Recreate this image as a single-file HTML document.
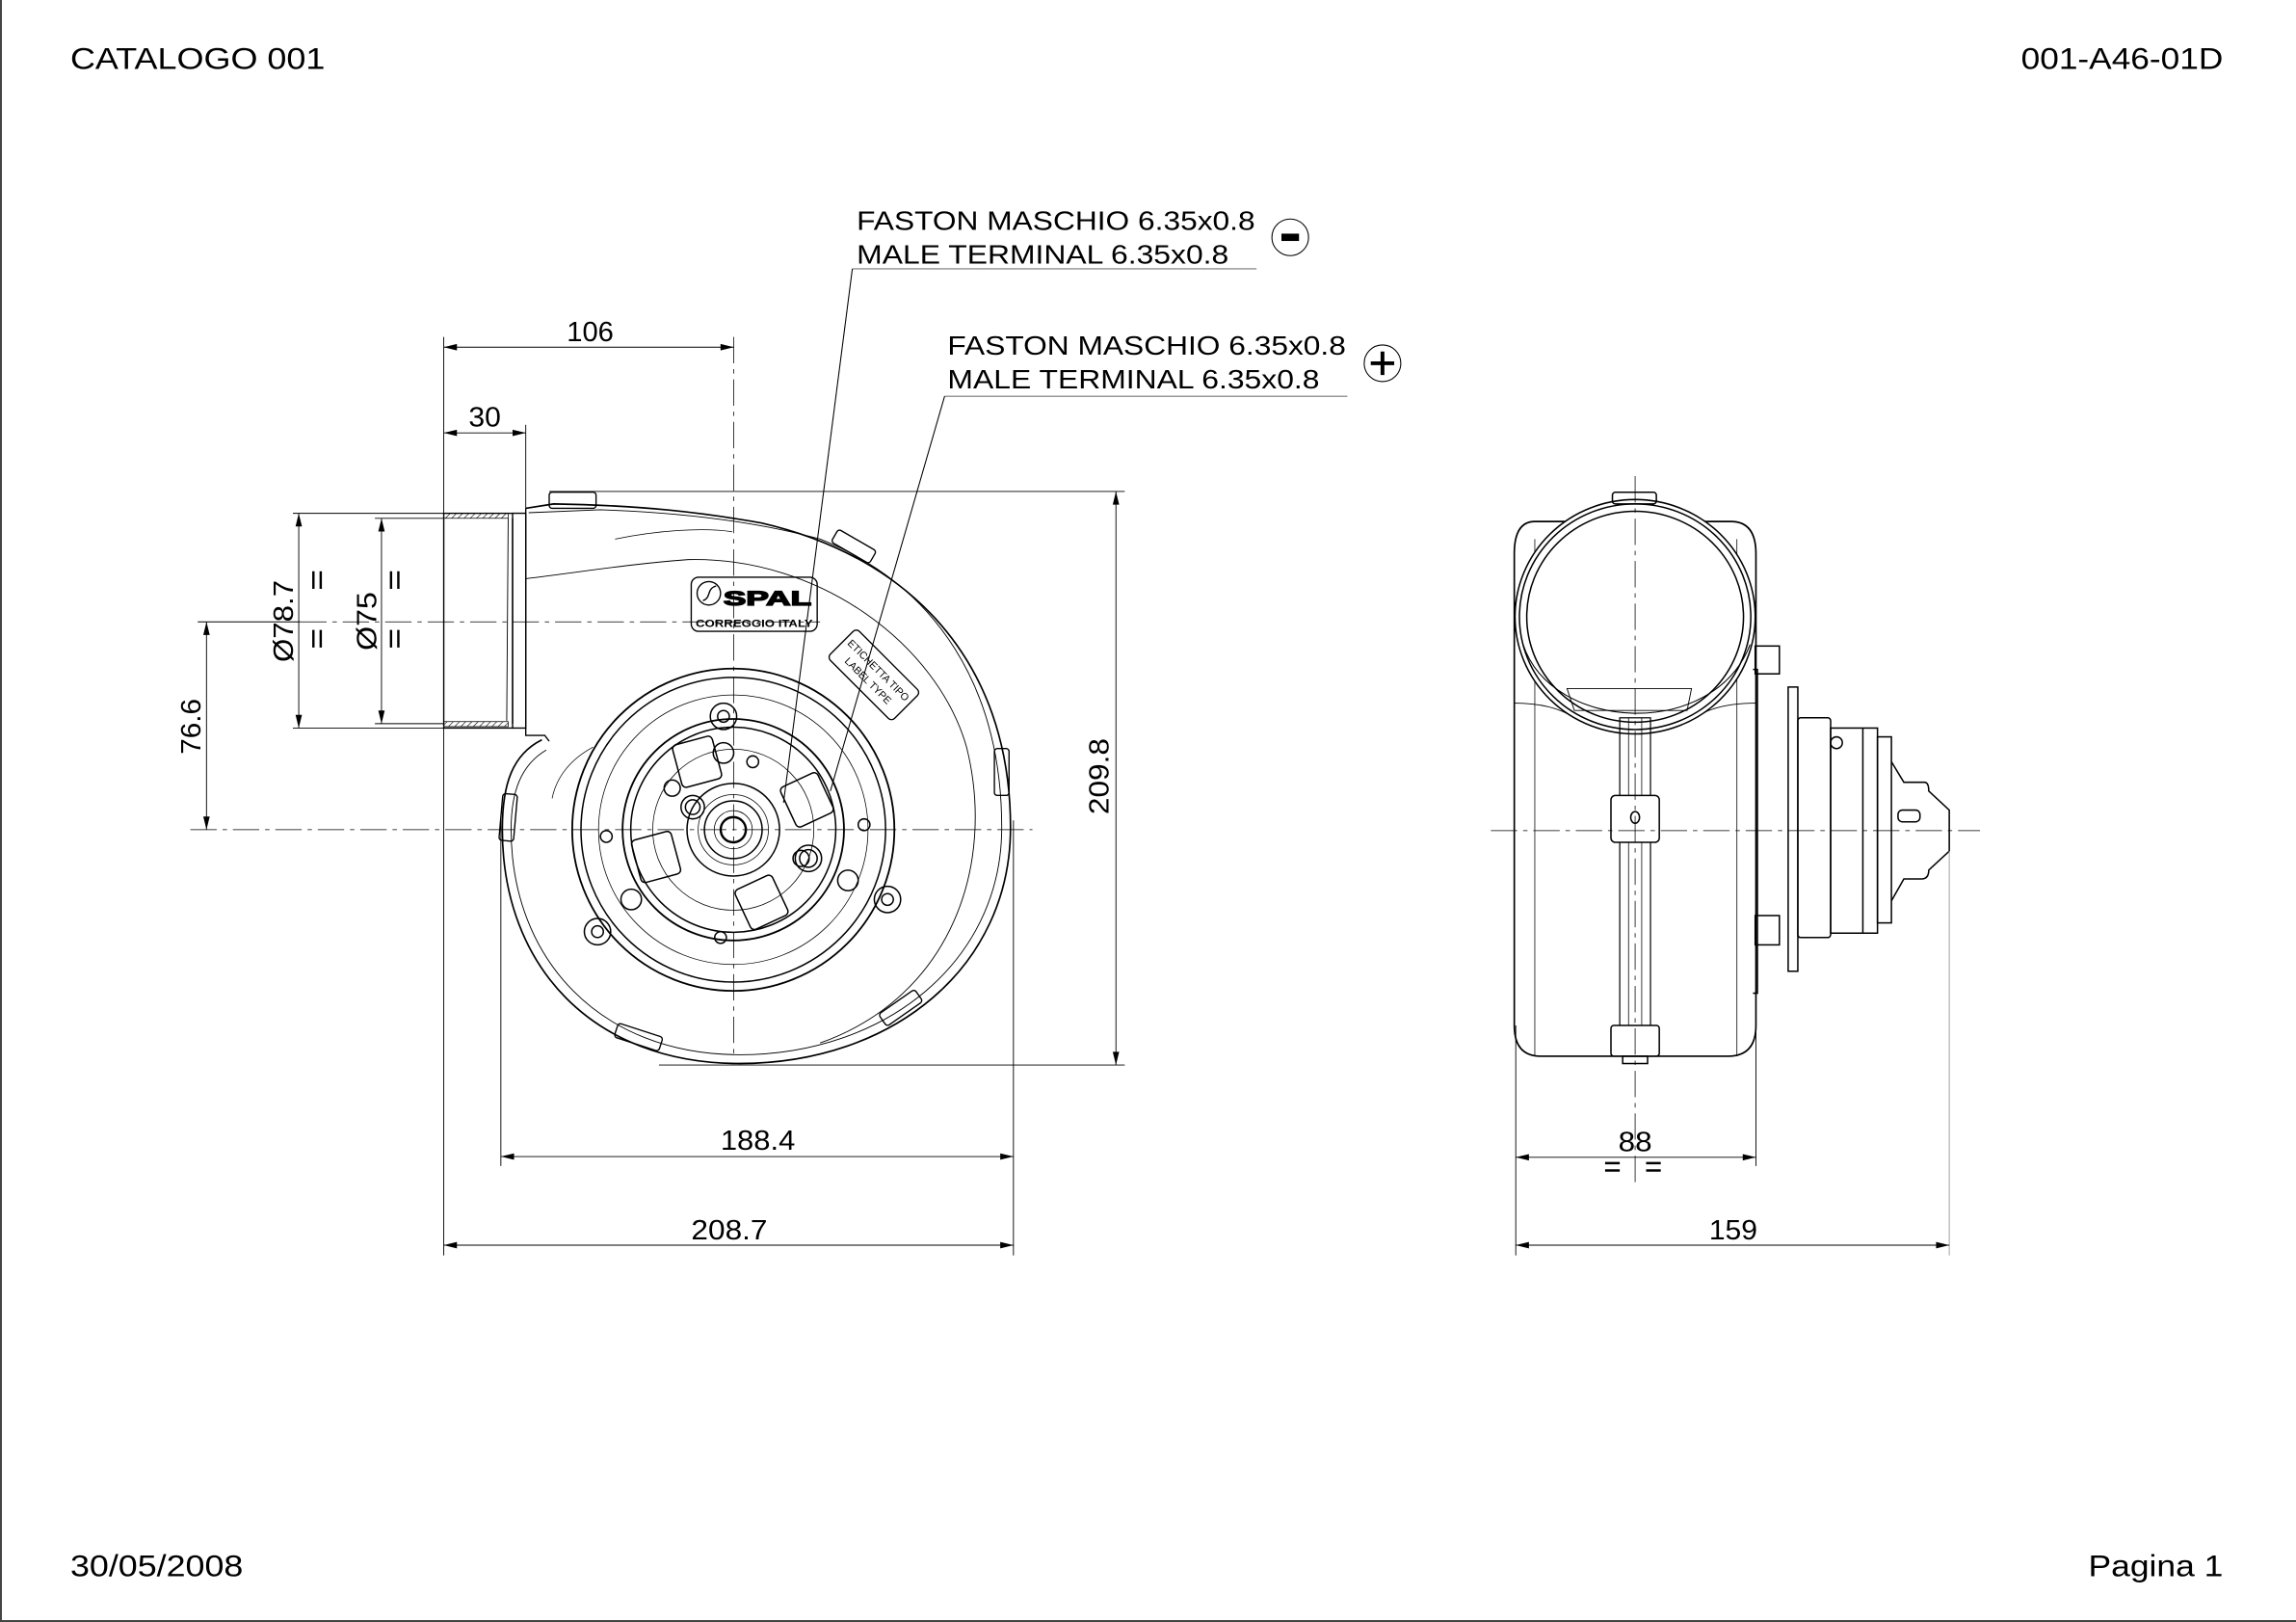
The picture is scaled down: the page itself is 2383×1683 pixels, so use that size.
<!DOCTYPE html>
<html><head><meta charset="utf-8"><style>
html,body{margin:0;padding:0;background:#fff;width:2383px;height:1683px;overflow:hidden}
svg{display:block}
text{font-family:"Liberation Sans",Arial,sans-serif;fill:#000}
</style></head><body>
<svg width="2383" height="1683" viewBox="0 0 2383 1683" xmlns="http://www.w3.org/2000/svg">
<defs>
<pattern id="hatch" width="3" height="3" patternUnits="userSpaceOnUse" patternTransform="rotate(45)"><line x1="0" y1="0" x2="0" y2="3" stroke="#000" stroke-width="0.8"/></pattern>
</defs>
<rect x="0" y="0" width="2383" height="1683" fill="#fff"/>
<line x1="1" y1="0" x2="1" y2="1683" stroke="#444" stroke-width="2"/>
<line x1="0" y1="1682" x2="2383" y2="1682" stroke="#444" stroke-width="2"/>
<g transform="scale(1.52)">
<text x="48" y="47" font-size="21" textLength="174" lengthAdjust="spacingAndGlyphs">CATALOGO 001</text>
<text x="1380" y="47" font-size="21" textLength="138" lengthAdjust="spacingAndGlyphs">001-A46-01D</text>
<text x="48" y="1076" font-size="21" textLength="118" lengthAdjust="spacingAndGlyphs">30/05/2008</text>
<text x="1426" y="1076" font-size="21" textLength="92" lengthAdjust="spacingAndGlyphs">Pagina 1</text>

<g font-size="18">
<text x="585" y="157" textLength="272" lengthAdjust="spacingAndGlyphs">FASTON MASCHIO 6.35x0.8</text>
<text x="585" y="180" textLength="254" lengthAdjust="spacingAndGlyphs">MALE TERMINAL 6.35x0.8</text>
<text x="647" y="242" textLength="272" lengthAdjust="spacingAndGlyphs">FASTON MASCHIO 6.35x0.8</text>
<text x="647" y="265" textLength="254" lengthAdjust="spacingAndGlyphs">MALE TERMINAL 6.35x0.8</text>
</g>
<g fill="none" stroke="#000" stroke-width="0.7">
<line x1="582" y1="183.5" x2="858" y2="183.5" stroke="#777"/>
<line x1="645" y1="270.5" x2="920" y2="270.5" stroke="#777"/>
<line x1="582" y1="183.5" x2="535" y2="548"/>
<line x1="645" y1="270.5" x2="567" y2="540"/>
<circle cx="881" cy="162" r="12.5"/>
<circle cx="944" cy="248" r="12.5"/>
</g>
<rect x="875" y="159.5" width="12" height="5" fill="#000"/>
<path d="M944 240v16M936 248h16" stroke="#000" stroke-width="2.6"/>

<g fill="none" stroke="#000" stroke-width="0.9">
<rect x="303" y="350.4" width="47" height="146.6"/>
<rect x="303" y="350.4" width="44" height="3.4" fill="url(#hatch)" stroke-width="0.5"/>
<rect x="303" y="492.6" width="44" height="3.4" fill="url(#hatch)" stroke-width="0.5"/>
<line x1="350" y1="353.8" x2="350" y2="494"/>
<line x1="347" y1="354" x2="346" y2="492" stroke-width="0.6"/>
<path d="M350 350.4 L359 350.4 L359 497 L350 497"/>
<path d="M359 347 L359 502 L372 502 L375 506"/>
<path d="M359 347 L378 344 C440 345 480 350 520 357 C620 380 690 450 690 565 C690 660 610 726 505 726 C405 726 343 660 343 566 C343 535 350 515 370 505" stroke-width="1.1"/>
<path d="M361 350 L410 348 C470 350 520 357 560 368 C640 400 684 470 684 565 C684 656 605 720 505 720 C410 720 349 655 349 566 C349 540 356 522 373 512" stroke-width="0.6"/>
<path d="M359 395 C400 390 430 385 470 382 C560 380 640 440 660 510 C680 590 650 680 560 712" stroke-width="0.6"/>
<path d="M377 545 C380 530 390 518 405 510" stroke-width="0.5"/>
<path d="M420 368 C450 362 480 360 500 363" stroke-width="0.5"/>
<rect x="375" y="336" width="32" height="11" rx="2"/>
<rect x="568" y="368" width="30" height="10" rx="2" transform="rotate(30 583 373)"/>
<rect x="679" y="511" width="10" height="32" rx="2"/>
<rect x="342" y="542" width="10" height="32" rx="2" transform="rotate(5 347 558)"/>
<rect x="600" y="683" width="30" height="10" rx="2" transform="rotate(-35 615 688)"/>
<rect x="420" y="703" width="32" height="10" rx="2" transform="rotate(18 436 708)"/>
<rect x="472" y="394" width="86" height="37" rx="5"/>
<circle cx="484" cy="405" r="8"/>
<path d="M480 410 C486 408 482 402 489 400"/>
</g>
<text x="494" y="413" font-size="14" font-weight="bold" fill="none" stroke="#000" stroke-width="0.9" textLength="60" lengthAdjust="spacingAndGlyphs">SPAL</text>
<text x="475" y="428" font-size="7" font-weight="bold" textLength="80" lengthAdjust="spacingAndGlyphs">CORREGGIO    ITALY</text>
<g transform="rotate(45 596 460)">
<rect x="566" y="446" width="62" height="28" rx="3" fill="none" stroke="#000" stroke-width="0.9"/>
<text x="597" y="458" font-size="7" text-anchor="middle">ETICHETTA TIPO</text>
<text x="597" y="468" font-size="7" text-anchor="middle">LABEL TYPE</text>
</g>
<g fill="none" stroke="#000" stroke-width="1">
<circle cx="500.7" cy="566.4" r="110" stroke-width="1.2"/>
<circle cx="500.7" cy="566.4" r="104"/>
<circle cx="500.7" cy="566.4" r="92" stroke-width="0.5"/>
<circle cx="500.7" cy="566.4" r="75.6" stroke-width="1.2"/>
<circle cx="500.7" cy="566.4" r="70"/>
<circle cx="500.7" cy="566.4" r="55" stroke-width="0.5"/>
<circle cx="500.7" cy="566.4" r="31.6"/>
<circle cx="500.7" cy="566.4" r="24" stroke-width="0.5"/>
<circle cx="500.7" cy="566.4" r="19.7"/>
<circle cx="500.7" cy="566.4" r="13" stroke-width="0.5"/>
<circle cx="500.7" cy="566.4" r="8.6" stroke-width="1.6"/>
<circle cx="494" cy="489" r="9"/><circle cx="494" cy="489" r="4"/>
<circle cx="408" cy="636" r="9"/><circle cx="408" cy="636" r="4"/>
<circle cx="606" cy="614" r="9"/><circle cx="606" cy="614" r="4"/>
<circle cx="494" cy="514" r="7"/><circle cx="431" cy="614" r="7"/><circle cx="579" cy="601" r="7"/>
<circle cx="459" cy="538" r="5.5"/><circle cx="547" cy="586" r="5.5"/>
<circle cx="473" cy="551" r="8"/><circle cx="473" cy="551" r="5"/>
<circle cx="552" cy="586" r="9"/><circle cx="552" cy="586" r="6"/>
<circle cx="514" cy="520" r="4"/><circle cx="414" cy="571" r="4"/><circle cx="590" cy="563" r="4"/><circle cx="492" cy="640" r="4"/>
<rect x="462" y="505" width="28" height="30" rx="3" transform="rotate(-15 476 520)"/>
<rect x="537" y="531" width="28" height="30" rx="3" transform="rotate(-25 551 546)"/>
<rect x="434" y="570" width="28" height="30" rx="3" transform="rotate(-15 448 585)"/>
<rect x="506" y="601" width="28" height="30" rx="3" transform="rotate(-25 520 616)"/>
</g>
<g stroke="#000" stroke-width="0.5" stroke-dasharray="18 4 3 4" fill="none">
<line x1="130" y1="566.4" x2="705" y2="566.4"/>
<line x1="205" y1="424.5" x2="560" y2="424.5"/>
<line x1="501" y1="230" x2="501" y2="720"/>
</g>

<g stroke="#000" stroke-width="0.6" fill="none">
<line x1="303" y1="230" x2="303" y2="857"/>
<line x1="359" y1="290" x2="359" y2="347"/>
<line x1="375" y1="335.5" x2="768" y2="335.5"/>
<line x1="450" y1="727" x2="768" y2="727"/>
<line x1="342" y1="560" x2="342" y2="796"/>
<line x1="692" y1="560" x2="692" y2="857"/>
<line x1="200" y1="350.4" x2="303" y2="350.4"/>
<line x1="200" y1="497" x2="303" y2="497"/>
<line x1="256" y1="353.8" x2="303" y2="353.8"/>
<line x1="256" y1="494" x2="303" y2="494"/>
<line x1="135" y1="424.5" x2="205" y2="424.5"/>
<line x1="303" y1="237" x2="501" y2="237"/>
<line x1="303" y1="295.5" x2="359" y2="295.5"/>
<line x1="342" y1="789.5" x2="692" y2="789.5"/>
<line x1="303" y1="850" x2="692" y2="850"/>
<line x1="762" y1="335.5" x2="762" y2="727"/>
<line x1="204" y1="350.4" x2="204" y2="497"/>
<line x1="260.5" y1="353.8" x2="260.5" y2="494"/>
<line x1="141" y1="424.5" x2="141" y2="566.4"/>
</g>
<g fill="#000">
<path d="M303 237l9-2.2v4.4zM501 237l-9-2.2v4.4z"/>
<path d="M303 295.5l9-2.2v4.4zM359 295.5l-9-2.2v4.4z"/>
<path d="M342 789.5l9-2.2v4.4zM692 789.5l-9-2.2v4.4z"/>
<path d="M303 850l9-2.2v4.4zM692 850l-9-2.2v4.4z"/>
<path d="M762 335.5l-2.2 9h4.4zM762 727l-2.2-9h4.4z"/>
<path d="M204 350.4l-2.2 9h4.4zM204 497l-2.2-9h4.4z"/>
<path d="M260.5 353.8l-2.2 9h4.4zM260.5 494l-2.2-9h4.4z"/>
<path d="M141 424.5l-2.2 9h4.4zM141 566.4l-2.2-9h4.4z"/>
</g>
<g font-size="19">
<text x="387" y="233" textLength="32" lengthAdjust="spacingAndGlyphs">106</text>
<text x="320" y="291" textLength="22" lengthAdjust="spacingAndGlyphs">30</text>
<text x="492" y="785" textLength="51" lengthAdjust="spacingAndGlyphs">188.4</text>
<text x="472" y="846" textLength="52" lengthAdjust="spacingAndGlyphs">208.7</text>
<text transform="translate(757 556) rotate(-90)" textLength="52" lengthAdjust="spacingAndGlyphs">209.8</text>
<text transform="translate(137 515) rotate(-90)" textLength="38" lengthAdjust="spacingAndGlyphs">76.6</text>
<text transform="translate(200 452) rotate(-90)" textLength="56" lengthAdjust="spacingAndGlyphs">Ø78.7</text>
<text transform="translate(257 444) rotate(-90)" textLength="40" lengthAdjust="spacingAndGlyphs">Ø75</text>
</g>
<g stroke="#000" stroke-width="1.6">
<path d="M214 402v-12M219 402v-12M214 442v-12M219 442v-12"/>
<path d="M267 402v-12M272 402v-12M267 442v-12M272 442v-12"/>
<path d="M1096 794h10M1096 799h10M1124 794h10M1124 799h10"/>
</g>

<g fill="none" stroke="#000" stroke-width="1">
<path d="M1048 356 L1182 356 Q1199 356 1199 378 L1199 700 Q1199 721 1180 721 L1052 721 Q1034 721 1034 700 L1034 378 Q1034 356 1048 356Z" stroke-width="1.1"/>
<line x1="1048" y1="368" x2="1048" y2="721" stroke-width="0.5"/>
<line x1="1186" y1="368" x2="1186" y2="721" stroke-width="0.5"/>
<path d="M1034 480 Q1060 480 1075 490 M1199 480 Q1172 480 1157 490" stroke-width="0.6"/>
<ellipse cx="1116.5" cy="421" rx="82" ry="80" fill="#fff"/>
<ellipse cx="1116.5" cy="421" rx="79" ry="77"/>
<ellipse cx="1116.5" cy="421" rx="74" ry="72"/>
<path d="M1040 440 C1060 500 1170 505 1195 440" stroke-width="0.7"/>
<path d="M1070 470 L1155 470 L1152 485 L1075 485Z" stroke-width="0.6"/>
<rect x="1101" y="336" width="30" height="8" rx="2"/>
<rect x="1106" y="490" width="21" height="215" stroke-width="0.8"/>
<line x1="1112" y1="490" x2="1112" y2="705" stroke-width="0.5"/>
<line x1="1121" y1="490" x2="1121" y2="705" stroke-width="0.5"/>
<rect x="1100" y="543" width="33" height="32" rx="3" fill="#fff"/>
<ellipse cx="1116.5" cy="558" rx="3" ry="4"/>
<rect x="1100" y="700" width="33" height="21" rx="2" fill="#fff"/>
<rect x="1108" y="721" width="17" height="5"/>
<rect x="1198.5" y="441" width="16.5" height="19"/>
<rect x="1198.5" y="625" width="16.5" height="20"/>
<path d="M1197 457 L1200 457 L1200 678 L1197 678"/>
<rect x="1221" y="469" width="6.6" height="194"/>
<rect x="1227.6" y="490" width="22.4" height="150" rx="2"/>
<rect x="1250" y="497" width="32" height="140"/>
<line x1="1272" y1="497" x2="1272" y2="637"/>
<rect x="1282" y="503" width="9.5" height="127"/>
<path d="M1291.5 520 L1300 534 L1314 534 Q1317 534 1317 540 L1331 553 L1331 581 L1317 594 Q1317 600 1312 600 L1300 600 L1291.5 615"/>
<rect x="1296" y="553" width="15" height="8" rx="3"/>
<circle cx="1254" cy="507" r="4"/>
</g>
<g stroke="#000" stroke-width="0.5" stroke-dasharray="18 4 3 4" fill="none">
<line x1="1018" y1="567" x2="1352" y2="567"/>
<line x1="1116.5" y1="325" x2="1116.5" y2="808"/>
</g>
<g stroke="#000" stroke-width="0.6" fill="none">
<line x1="1035" y1="700" x2="1035" y2="857"/>
<line x1="1199" y1="640" x2="1199" y2="796"/>
<line x1="1331" y1="581" x2="1331" y2="857" stroke="#999"/>
<line x1="1035" y1="790" x2="1199" y2="790"/>
<line x1="1035" y1="850" x2="1331" y2="850"/>
</g>
<g fill="#000">
<path d="M1035 790l9-2.2v4.4zM1199 790l-9-2.2v4.4z"/>
<path d="M1035 850l9-2.2v4.4zM1331 850l-9-2.2v4.4z"/>
</g>
<g font-size="19">
<text x="1105" y="786" textLength="23" lengthAdjust="spacingAndGlyphs">88</text>
<text x="1167" y="846" textLength="33" lengthAdjust="spacingAndGlyphs">159</text>
</g>
</g>
</svg>
</body></html>
